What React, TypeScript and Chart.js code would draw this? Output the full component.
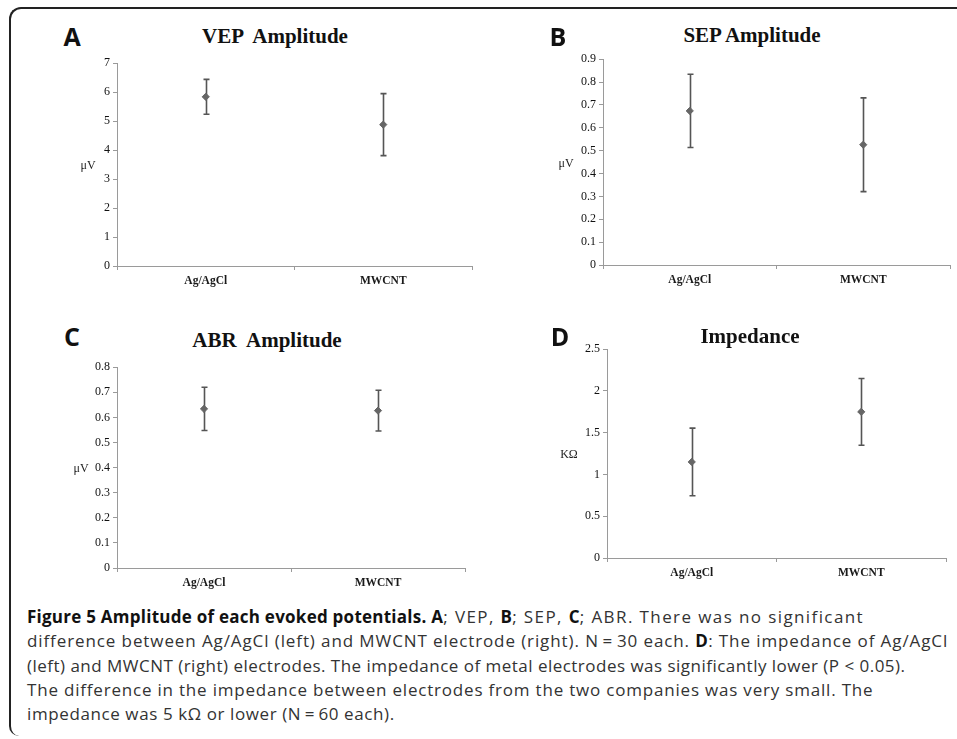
import React, { useEffect, useRef } from "react";
import { Chart, registerables } from "chart.js";

Chart.register(...registerables);

const categories = ["Ag/AgCl", "MWCNT"];

const vepMeans = [5.84, 4.88];
const vepErrors = [0.6, 1.07];
const vepTicks = [0, 1, 2, 3, 4, 5, 6, 7];

const sepMeans = [0.674, 0.526];
const sepErrors = [0.16, 0.205];
const sepTicks = [0, 0.1, 0.2, 0.3, 0.4, 0.5, 0.6, 0.7, 0.8, 0.9];

const abrMeans = [0.634, 0.627];
const abrErrors = [0.086, 0.081];
const abrTicks = [0, 0.1, 0.2, 0.3, 0.4, 0.5, 0.6, 0.7, 0.8];

const impMeans = [1.15, 1.75];
const impErrors = [0.405, 0.4];
const impTicks = [0, 0.5, 1, 1.5, 2, 2.5];

const captionLines = [
  [
    { b: true, t: "Figure 5 Amplitude of each evoked potentials. " },
    { b: true, t: "A" },
    { b: false, t: "; VEP, " },
    { b: true, t: "B" },
    { b: false, t: "; SEP, " },
    { b: true, t: "C" },
    { b: false, t: "; ABR. There was no significant" },
  ],
  [
    { b: false, t: "difference between Ag/AgCl (left) and MWCNT electrode (right). N\u2009=\u200930 each. " },
    { b: true, t: "D" },
    { b: false, t: ": The impedance of Ag/AgCl" },
  ],
  [{ b: false, t: "(left) and MWCNT (right) electrodes. The impedance of metal electrodes was significantly lower (P < 0.05)." }],
  [{ b: false, t: "The difference in the impedance between electrodes from the two companies was very small. The" }],
  [{ b: false, t: "impedance was 5 k\u03A9 or lower (N\u2009=\u200960 each)." }],
];
const captionSpacing = [1.4, 0.9, 0.48, 0.8, 0.6];

const AXIS_COLOR = "#9a9a9a";
const SERIF = "'Liberation Serif', 'Times New Roman', serif";

const errorBarPlugin = {
  id: "errorBars",
  beforeDatasetsDraw(chart: any, _args: any, opts: any) {
    const { ctx } = chart;
    const x = chart.scales.x;
    const y = chart.scales.y;
    const data = chart.data.datasets[0].data as number[];
    const errs = opts.errors as number[];
    ctx.save();
    ctx.strokeStyle = "#555";
    ctx.lineWidth = 1.6;
    data.forEach((v, i) => {
      const px = Math.round(x.getPixelForValue(i)) + 0.5;
      const top = y.getPixelForValue(v + errs[i]);
      const bot = y.getPixelForValue(v - errs[i]);
      ctx.beginPath();
      ctx.moveTo(px, top);
      ctx.lineTo(px, bot);
      ctx.moveTo(px - 3, top);
      ctx.lineTo(px + 3, top);
      ctx.moveTo(px - 3, bot);
      ctx.lineTo(px + 3, bot);
      ctx.stroke();
    });
    ctx.restore();
  },
};

type Area = { l: number; t: number; r: number; b: number };

function ErrorChart(props: { area: Area; means: number[]; errors: number[]; ticks: number[] }) {
  const ref = useRef<HTMLCanvasElement | null>(null);
  const { area, means, errors, ticks } = props;
  const YW = 60;
  const XH = 30;
  const PT = 10;
  const PR = 6;
  const w = area.r - area.l + YW + PR;
  const h = area.b - area.t + PT + XH;
  useEffect(() => {
    if (!ref.current) return;
    const chart = new Chart(ref.current, {
      type: "line",
      data: {
        labels: categories,
        datasets: [
          {
            data: means,
            showLine: false,
            pointStyle: "rectRot",
            pointRadius: 3.6,
            pointBackgroundColor: "#666",
            pointBorderColor: "#666",
            pointBorderWidth: 1,
          },
        ],
      },
      options: {
        animation: false,
        responsive: false,
        events: [],
        layout: { padding: { top: PT, right: PR, left: 0, bottom: 0 } },
        plugins: {
          legend: { display: false },
          tooltip: { enabled: false },
          title: { display: false },
          errorBars: { errors },
        } as any,
        scales: {
          x: {
            type: "category",
            offset: true,
            grid: { offset: true, drawOnChartArea: false, drawTicks: true, tickLength: 4, color: AXIS_COLOR },
            border: { color: AXIS_COLOR, width: 1 },
            ticks: { color: "#1a1a1a", padding: 4, font: { family: SERIF, size: 11.5, weight: "bold" } },
            afterFit(s: any) {
              s.height = XH;
            },
          },
          y: {
            min: ticks[0],
            max: ticks[ticks.length - 1],
            afterBuildTicks(s: any) {
              s.ticks = ticks.map((v) => ({ value: v }));
            },
            grid: { drawOnChartArea: false, drawTicks: true, tickLength: 4, color: AXIS_COLOR },
            border: { color: AXIS_COLOR, width: 1 },
            ticks: {
              color: "#111",
              padding: 3,
              font: { family: SERIF, size: 12 },
              callback: (v: any) => String(+Number(v).toFixed(2)),
            },
            afterFit(s: any) {
              s.width = YW;
            },
          },
        },
      } as any,
      plugins: [errorBarPlugin as any],
    });
    return () => chart.destroy();
  }, []);
  return (
    <canvas
      ref={ref}
      width={w}
      height={h}
      style={{ position: "absolute", left: area.l - YW, top: area.t - PT, width: w, height: h }}
    />
  );
}

function Label(props: { x: number; y: number; text: string; style: React.CSSProperties }) {
  return (
    <div
      style={{
        position: "absolute",
        left: props.x,
        top: props.y,
        transform: "translate(-50%, -50%)",
        lineHeight: 1,
        whiteSpace: "pre",
        ...props.style,
      }}
    >
      {props.text}
    </div>
  );
}

const letterStyle: React.CSSProperties = { fontFamily: "'Open Sans', sans-serif", fontWeight: 700, fontSize: 25, color: "#111" };
const titleStyle: React.CSSProperties = { fontFamily: SERIF, fontWeight: 700, fontSize: 21, color: "#111" };
const unitStyle: React.CSSProperties = { fontFamily: SERIF, fontSize: 12, color: "#222" };

export default function App() {
  useEffect(() => {
    document.body.style.margin = "0";
  }, []);
  return (
    <div style={{ position: "relative", width: 957, height: 739, overflow: "hidden", background: "#fff" }}>
      <div
        style={{
          position: "absolute",
          left: 9,
          top: 7,
          width: 1000,
          height: 729,
          borderLeft: "2px solid #222",
          borderTop: "2px solid #222",
          borderTopLeftRadius: 12,
          borderBottomLeftRadius: 10,
          boxSizing: "border-box",
        }}
      />
      <ErrorChart area={{ l: 117, t: 63, r: 472, b: 266 }} means={vepMeans} errors={vepErrors} ticks={vepTicks} />
      <ErrorChart area={{ l: 603, t: 59, r: 950, b: 265 }} means={sepMeans} errors={sepErrors} ticks={sepTicks} />
      <ErrorChart area={{ l: 117, t: 367, r: 465, b: 568 }} means={abrMeans} errors={abrErrors} ticks={abrTicks} />
      <ErrorChart area={{ l: 607, t: 349, r: 946, b: 558 }} means={impMeans} errors={impErrors} ticks={impTicks} />

      <Label x={72} y={36} text="A" style={letterStyle} />
      <Label x={558} y={36} text="B" style={letterStyle} />
      <Label x={72} y={336} text="C" style={letterStyle} />
      <Label x={560} y={336} text="D" style={letterStyle} />

      <Label x={275} y={36} text={"VEP  Amplitude"} style={titleStyle} />
      <Label x={752} y={35} text={"SEP Amplitude"} style={titleStyle} />
      <Label x={267} y={340} text={"ABR  Amplitude"} style={titleStyle} />
      <Label x={750} y={336} text={"Impedance"} style={titleStyle} />

      <Label x={88} y={165} text={"\u03BCV"} style={unitStyle} />
      <Label x={566} y={163} text={"\u03BCV"} style={unitStyle} />
      <Label x={81} y={468} text={"\u03BCV"} style={unitStyle} />
      <Label x={569} y={454} text={"K\u03A9"} style={unitStyle} />

      <div
        style={{
          position: "absolute",
          left: 27,
          top: 605,
          fontFamily: "'Open Sans', sans-serif",
          fontSize: 17,
          lineHeight: "24.3px",
          color: "#333",
          whiteSpace: "nowrap",
        }}
      >
        {captionLines.map((line, i) => (
          <div key={i} style={{ letterSpacing: `${captionSpacing[i]}px` }}>
            {line.map((seg, j) => (
              <span key={j} style={seg.b ? { fontWeight: 700, color: "#111", letterSpacing: "0.25px" } : undefined}>
                {seg.t}
              </span>
            ))}
          </div>
        ))}
      </div>
    </div>
  );
}
